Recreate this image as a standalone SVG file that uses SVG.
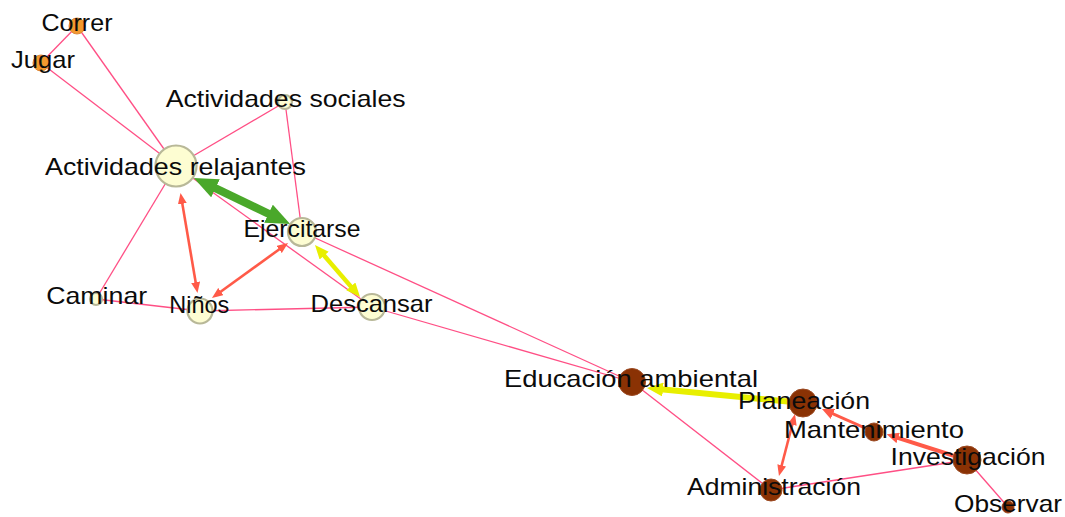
<svg xmlns="http://www.w3.org/2000/svg" width="1065" height="517" viewBox="0 0 1065 517">
<style>
.e{stroke:#ff4f85;stroke-width:1.3;fill:none}
.r{stroke:#ff5a48;fill:none}
.pale{fill:#fdfdd2;stroke:#b8b898;stroke-width:2.2}
.org{fill:#f3992f;stroke:#dd8a3a;stroke-width:1}
.brn{fill:#8a3204;stroke:#9c4a22;stroke-width:1}
text{font-family:"Liberation Sans",Arial,sans-serif;font-size:24px;fill:#0b0b0b;text-anchor:middle}
</style>
<defs>
<marker id="mg" viewBox="0 0 10 10" refX="3" refY="5" markerUnits="userSpaceOnUse" markerWidth="24" markerHeight="20" orient="auto-start-reverse" preserveAspectRatio="none"><path d="M0,0L10,5L0,10z" fill="#4aa82a"/></marker>
<marker id="mr" viewBox="0 0 10 10" refX="3" refY="5" markerUnits="userSpaceOnUse" markerWidth="11" markerHeight="9" orient="auto-start-reverse" preserveAspectRatio="none"><path d="M0,0L10,5L0,10z" fill="#ff5a48"/></marker>
<marker id="mr2" viewBox="0 0 10 10" refX="3" refY="5" markerUnits="userSpaceOnUse" markerWidth="12" markerHeight="11" orient="auto-start-reverse" preserveAspectRatio="none"><path d="M0,0L10,5L0,10z" fill="#ff5a48"/></marker>
<marker id="my" viewBox="0 0 10 10" refX="3" refY="5" markerUnits="userSpaceOnUse" markerWidth="14" markerHeight="12" orient="auto-start-reverse" preserveAspectRatio="none"><path d="M0,0L10,5L0,10z" fill="#e8ef00"/></marker>
<marker id="my2" viewBox="0 0 10 10" refX="3" refY="5" markerUnits="userSpaceOnUse" markerWidth="16" markerHeight="14" orient="auto" preserveAspectRatio="none"><path d="M0,0L10,5L0,10z" fill="#e8ef00"/></marker>
</defs>
<g id="connectors">
<line class="e" x1="77" y1="26" x2="41" y2="63"/>
<line class="e" x1="77" y1="26" x2="176" y2="166"/>
<line class="e" x1="41" y1="63" x2="176" y2="166"/>
<line class="e" x1="285" y1="102" x2="176" y2="166"/>
<line class="e" x1="285" y1="102" x2="302" y2="232"/>
<line class="e" x1="176" y1="166" x2="96" y2="299"/>
<line class="e" x1="176" y1="166" x2="372" y2="307"/>
<line class="e" x1="302" y1="232" x2="632" y2="382"/>
<line class="e" x1="372" y1="307" x2="632" y2="382"/>
<line class="e" x1="96" y1="299" x2="200" y2="311"/>
<line class="e" x1="200" y1="311" x2="372" y2="307"/>
<line class="e" x1="632" y1="382" x2="771" y2="490"/>
<line class="e" x1="771" y1="490" x2="967" y2="460"/>
<line class="e" x1="967" y1="460" x2="1008" y2="507"/>
<line stroke="#4aa82a" stroke-width="8" x1="209" y1="185.2" x2="275" y2="216.8" marker-start="url(#mg)" marker-end="url(#mg)"/>
<line class="r" stroke-width="2.6" x1="181.8" y1="200.6" x2="196.2" y2="285.4" marker-start="url(#mr)" marker-end="url(#mr)"/>
<line class="r" stroke-width="2.6" x1="281.8" y1="247.5" x2="218.2" y2="293.5" marker-start="url(#mr)" marker-end="url(#mr)"/>
<line stroke="#e8ef00" stroke-width="4.5" x1="321.4" y1="252.4" x2="353.6" y2="289.6" marker-start="url(#my)" marker-end="url(#my)"/>
<line stroke="#e8ef00" stroke-width="6" x1="803" y1="403" x2="658.2" y2="389.1" marker-end="url(#my2)"/>
<line class="r" stroke-width="2.6" x1="793.1" y1="421.5" x2="780.9" y2="468.5" marker-start="url(#mr)" marker-end="url(#mr)"/>
<line class="r" stroke-width="3" x1="874" y1="432" x2="829.7" y2="412.4" marker-end="url(#mr2)"/>
<line class="r" stroke-width="4" x1="967" y1="460" x2="894.7" y2="436.8" marker-end="url(#mr2)"/>
</g>
<g id="n-correr"><circle class="org" cx="77" cy="26" r="8"/><text x="77" y="30.5" textLength="71" lengthAdjust="spacingAndGlyphs">Correr</text></g>
<g id="n-jugar"><circle class="org" cx="41" cy="63" r="8"/><text x="43" y="68.3" textLength="64" lengthAdjust="spacingAndGlyphs">Jugar</text></g>
<g id="n-sociales"><circle class="pale" cx="285" cy="102" r="7"/><text x="285.7" y="106.7" textLength="240" lengthAdjust="spacingAndGlyphs">Actividades sociales</text></g>
<g id="n-relajantes"><circle class="pale" cx="176" cy="166" r="20.5" stroke-width="3"/><text x="175.5" y="175" textLength="261" lengthAdjust="spacingAndGlyphs">Actividades relajantes</text></g>
<g id="n-ejercitarse"><circle class="pale" cx="302" cy="232" r="14"/><text x="302" y="237.3" textLength="117" lengthAdjust="spacingAndGlyphs">Ejercitarse</text></g>
<g id="n-caminar"><circle class="pale" cx="96" cy="299" r="6"/><text x="96.7" y="304.3" textLength="101" lengthAdjust="spacingAndGlyphs">Caminar</text></g>
<g id="n-ninos"><circle class="pale" cx="200" cy="311" r="12.5"/><text x="199.3" y="313.3" textLength="60" lengthAdjust="spacingAndGlyphs">Niños</text></g>
<g id="n-descansar"><circle class="pale" cx="372" cy="307" r="13"/><text x="371.5" y="311.7" textLength="122" lengthAdjust="spacingAndGlyphs">Descansar</text></g>
<g id="n-educacion"><circle class="brn" cx="632" cy="382" r="13.5"/><text x="631" y="387.3" textLength="254" lengthAdjust="spacingAndGlyphs">Educación ambiental</text></g>
<g id="n-planeacion"><circle class="brn" cx="803" cy="403" r="14"/><text x="804" y="408.5" textLength="132" lengthAdjust="spacingAndGlyphs">Planeación</text></g>
<g id="n-mantenimiento"><circle class="brn" cx="874" cy="432" r="9"/><text x="874" y="438.3" textLength="180" lengthAdjust="spacingAndGlyphs">Mantenimiento</text></g>
<g id="n-investigacion"><circle class="brn" cx="967" cy="460" r="14"/><text x="968" y="465" textLength="155" lengthAdjust="spacingAndGlyphs">Investigación</text></g>
<g id="n-administracion"><circle class="brn" cx="771" cy="490" r="11"/><text x="774" y="495" textLength="174" lengthAdjust="spacingAndGlyphs">Administración</text></g>
<g id="n-observar"><circle class="brn" cx="1008" cy="507" r="6"/><text x="1008" y="512.3" textLength="108" lengthAdjust="spacingAndGlyphs">Observar</text></g>
</svg>
